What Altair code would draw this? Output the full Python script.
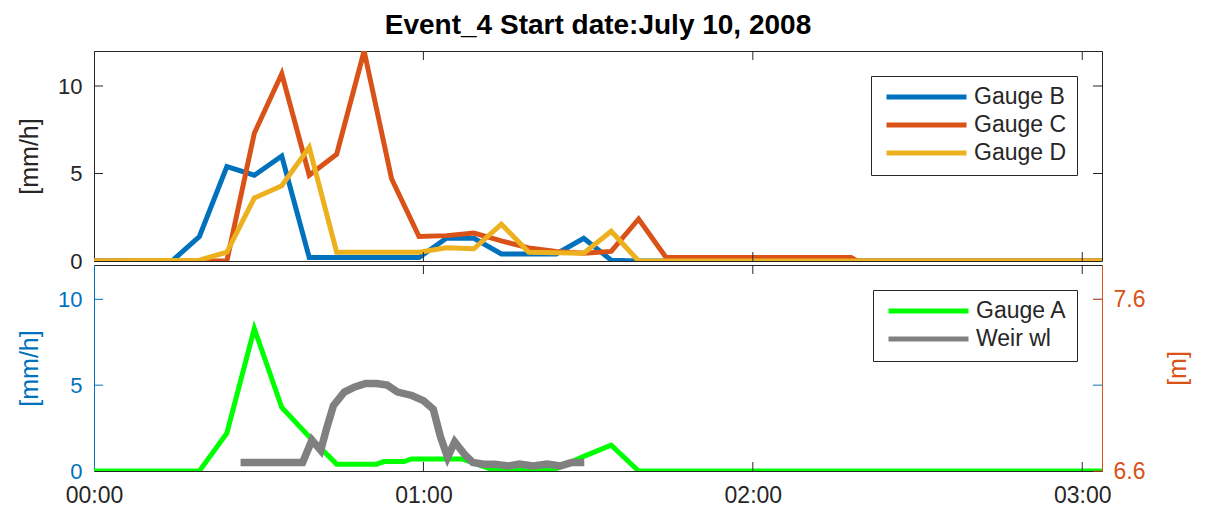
import altair as alt
import pandas as pd

FONT = 'Liberation Sans'
INK = '#262626'
BLUE = '#0072BD'
ORANGE = '#D95319'
X_END = 183.6  # right edge of the time axis, minutes after 00:00

# ---- top panel: rain gauges (minutes after 00:00, mm/h) ----
gauge_b_min = [0, 14.2, 19.2, 24.2, 29.2, 34.2, 39.2, 59.2, 64.2, 69.2, 74.2, 84.2, 89.2, 94.2, 99.2, 183.6]
gauge_b_val = [0, 0, 1.4, 5.4, 4.9, 6.0, 0.2, 0.2, 1.3, 1.3, 0.4, 0.4, 1.3, 0.05, 0, 0]

gauge_c_min = [0, 24.2, 29.2, 34.2, 39.2, 44.2, 49.2, 54.2, 59.2, 64.2, 69.2, 74.2, 79.2, 84.2,
               89.2, 94.2, 99.2, 104.2, 137.9, 139.0, 183.6]
gauge_c_val = [0, 0, 7.3, 10.7, 4.9, 6.1, 12.0, 4.7, 1.4, 1.45, 1.6, 1.15, 0.75, 0.55,
               0.45, 0.55, 2.4, 0.2, 0.2, 0, 0]

gauge_d_min = [0, 19.2, 24.2, 29.2, 34.2, 39.2, 44.2, 59.2, 64.2, 69.2, 74.2, 79.2, 89.2, 94.2, 99.2, 183.6]
gauge_d_val = [0, 0.05, 0.5, 3.6, 4.3, 6.5, 0.5, 0.5, 0.75, 0.7, 2.1, 0.5, 0.45, 1.7, 0, 0]

# ---- bottom panel: gauge A (mm/h) and weir water level (m) ----
gauge_a_min = [0, 19.2, 24.2, 29.2, 34.2, 39.2, 44.2, 51.5, 52.8, 56.5, 57.8, 67.0, 72.0, 84.2,
               89.2, 94.2, 99.2, 183.6]
gauge_a_val = [0, 0, 2.2, 8.3, 3.7, 2.0, 0.4, 0.4, 0.55, 0.55, 0.7, 0.7, 0.15, 0.15,
               0.85, 1.5, 0, 0]

weir_min = [26.7, 38.0, 39.7, 41.3, 42.3, 43.6, 45.6, 47.5, 49.5, 51.5, 53.4, 55.3, 57.9, 60.0,
            61.8, 63.1, 64.4, 65.7, 67.4, 69.0, 71.0, 73.0, 75.5, 77.5, 80.0, 82.5, 85.0, 87.0, 89.3]
weir_wl = [6.65, 6.65, 6.78, 6.72, 6.84, 6.98, 7.06, 7.09, 7.11, 7.11, 7.10, 7.06, 7.04, 7.01,
           6.96, 6.80, 6.68, 6.77, 6.70, 6.65, 6.64, 6.64, 6.63, 6.64, 6.63, 6.64, 6.63, 6.65, 6.65]

hour_labels = [0, 60, 120, 180]
hour_ticks = [60, 120, 180]
rate_labels = [0, 5, 10]
rate_ticks = [5, 10]
wl_ticks = [6.6, 7.6]

TOP_H = 210
BOT_H = 206
W = 1008
TICK = 9


def frame(name, minutes, values, col='value'):
    return pd.DataFrame({'minute': minutes, col: values, 'series': name})


top_df = pd.concat([frame('Gauge B', gauge_b_min, gauge_b_val),
                    frame('Gauge C', gauge_c_min, gauge_c_val),
                    frame('Gauge D', gauge_d_min, gauge_d_val)])
a_df = frame('Gauge A', gauge_a_min, gauge_a_val)
weir_df = frame('Weir wl', weir_min, weir_wl, col='wl')
hours_df = pd.DataFrame({'minute': hour_ticks})
rate_df = pd.DataFrame({'value': rate_ticks})
wl_df = pd.DataFrame({'wl': wl_ticks})

x_scale = alt.Scale(domain=[0, X_END], nice=False, zero=False)
rate_scale = alt.Scale(domain=[0, 12], nice=False, zero=False)


def legend():
    return alt.Legend(title=None, orient='top-right', offset=25, symbolType='stroke',
                      symbolSize=6400, symbolStrokeWidth=5, clipHeight=22, rowPadding=5,
                      padding=10, strokeColor=INK, fillColor='white', cornerRadius=0,
                      labelFont=FONT, labelFontSize=23, labelColor=INK, labelOffset=5,
                      symbolOffset=3)


def rate_axis(color):
    return alt.Axis(values=rate_labels, title='[mm/h]', ticks=False, grid=False,
                    domainColor=color, labelColor=color, titleColor=color,
                    labelFont=FONT, titleFont=FONT, labelFontSize=22, titleFontSize=25,
                    titleFontWeight='normal', labelPadding=12, titlePadding=15)


def tick_rules(x_enc, color, height):
    top = alt.Chart(hours_df).mark_rule(color=color).encode(
        x=x_enc, y=alt.value(0), y2=alt.value(TICK))
    bottom = alt.Chart(hours_df).mark_rule(color=color).encode(
        x=x_enc, y=alt.value(height), y2=alt.value(height - TICK))
    return top + bottom


def side_rules(df, y_enc, color, left=True, right=True):
    parts = []
    if left:
        parts.append(alt.Chart(df).mark_rule(color=color).encode(
            y=y_enc, x=alt.value(0), x2=alt.value(TICK)))
    if right:
        parts.append(alt.Chart(df).mark_rule(color=color).encode(
            y=y_enc, x=alt.value(W), x2=alt.value(W - TICK)))
    return alt.layer(*parts)


# ---- top panel ----
top_x = alt.X('minute:Q', scale=x_scale, axis=None)
top_y = alt.Y('value:Q', scale=rate_scale, axis=rate_axis(INK))

rain = alt.Chart(top_df).mark_line(strokeWidth=5, clip=True).encode(
    x=top_x,
    y=top_y,
    color=alt.Color('series:N',
                    scale=alt.Scale(domain=['Gauge B', 'Gauge C', 'Gauge D'],
                                    range=[BLUE, ORANGE, '#EDB120']),
                    legend=legend())
)

top = alt.layer(
    rain,
    tick_rules(top_x, INK, TOP_H),
    side_rules(rate_df, top_y, INK),
).properties(
    width=W, height=TOP_H,
    title=alt.TitleParams(text='Event_4 Start date:July 10, 2008', font=FONT, fontSize=28,
                          fontWeight='bold', color='black', anchor='middle', frame='group',
                          offset=11)
)

# ---- bottom panel ----
bot_x = alt.X('minute:Q', scale=x_scale,
              axis=alt.Axis(values=hour_labels,
                            labelExpr="'0' + floor(datum.value / 60) + ':00'",
                            title=None, ticks=False, grid=False, domainColor=INK,
                            labelColor=INK, labelFont=FONT, labelFontSize=23,
                            labelPadding=13, labelFlush=False))
bot_y = alt.Y('value:Q', scale=rate_scale, axis=rate_axis(BLUE))
wl_y = alt.Y('wl:Q', scale=alt.Scale(domain=[6.6, 7.8], nice=False, zero=False),
             axis=alt.Axis(orient='right', values=wl_ticks, format='.1f', title='[m]',
                           titleAngle=270, ticks=False, grid=False, domainColor=ORANGE,
                           labelColor=ORANGE, titleColor=ORANGE, labelFont=FONT,
                           titleFont=FONT, labelFontSize=23, titleFontSize=25,
                           titleFontWeight='normal', labelPadding=11, titlePadding=46))

color_a = alt.Color('series:N',
                    scale=alt.Scale(domain=['Gauge A', 'Weir wl'], range=['#00FF00', '#808080']),
                    legend=legend())

gauge_a = alt.Chart(a_df).mark_line(strokeWidth=5, clip=True).encode(
    x=bot_x, y=bot_y, color=color_a)
weir = alt.Chart(weir_df).mark_line(strokeWidth=7.5, clip=True).encode(
    x=bot_x, y=wl_y, color=color_a)

left_part = alt.layer(gauge_a, tick_rules(bot_x, INK, BOT_H), side_rules(rate_df, bot_y, BLUE))
right_part = alt.layer(weir, side_rules(wl_df, wl_y, ORANGE, left=False))

bottom = alt.layer(left_part, right_part).resolve_scale(y='independent').properties(
    width=W, height=BOT_H)

chart = alt.vconcat(top, bottom, spacing=4, bounds='flush').resolve_scale(
    color='independent'
).properties(
    padding={'left': 9, 'top': 3, 'right': 2, 'bottom': 2}
).configure(font=FONT).configure_view(stroke=INK, strokeWidth=1)

chart.save("out.html", embed_options={"renderer": "svg", "actions": False})
